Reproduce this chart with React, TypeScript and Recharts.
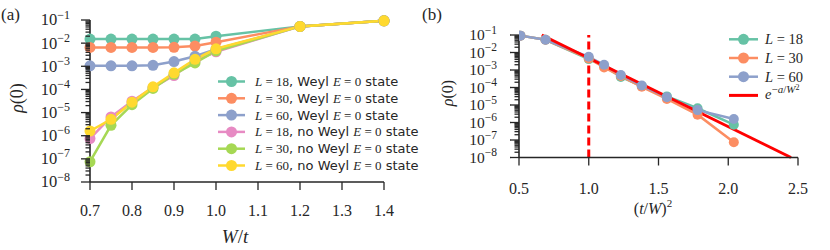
import React from 'react';
import { LineChart, Line, XAxis, YAxis, ReferenceLine, Customized } from 'recharts';

// W/t values (panel a) and the matching (t/W)^2 values (panel b)
const wOverT = [0.7, 0.75, 0.8, 0.85, 0.9, 0.95, 1.0, 1.2, 1.4];
const tOverW2 = [2.04, 1.78, 1.56, 1.38, 1.23, 1.11, 1.0, 0.69, 0.51];

// rho(0)
const weylL18 = [1.5e-2, 1.5e-2, 1.5e-2, 1.5e-2, 1.5e-2, 1.5e-2, 2.0e-2, 5.3e-2, 9.2e-2];
const weylL30 = [6.5e-3, 6.5e-3, 6.5e-3, 6.5e-3, 6.6e-3, 7.5e-3, 1.1e-2, 5.3e-2, 9.2e-2];
const weylL60 = [1.05e-3, 1.05e-3, 1.05e-3, 1.1e-3, 1.6e-3, 2.7e-3, 5.5e-3, 5.3e-2, 9.2e-2];
const noWeylL18 = [7.5e-7, 6.5e-6, 3.1e-5, 1.2e-4, 4.0e-4, 1.7e-3, 4.2e-3, 5.3e-2, 9.2e-2];
const noWeylL30 = [7.5e-8, 2.8e-6, 2.2e-5, 1.1e-4, 4.5e-4, 1.4e-3, 4.6e-3, 5.3e-2, 9.2e-2];
const noWeylL60 = [1.6e-6, 5.1e-6, 2.8e-5, 1.3e-4, 5.2e-4, 2.0e-3, 5.7e-3, 5.3e-2, 9.2e-2];

// red fit line e^{-a/W^2}, end points
const fitX = [0.663, 2.45];
const fitRho = [1e-1, 1e-8];

const xTicksA = [0.7, 0.8, 0.9, 1.0, 1.1, 1.2, 1.3, 1.4];
const xTicksB = [0.5, 1.0, 1.5, 2.0, 2.5];
const decades = [-8, -7, -6, -5, -4, -3, -2];
const mantissas = [1, 2, 3, 4, 5, 6, 7, 8, 9];
const yTicks = [...decades.flatMap((e) => mantissas.map((m) => m * Math.pow(10, e))), 1e-1];

const legendL = ['18', '30', '60', '18', '30', '60'];
const legendWeyl = [true, true, true, false, false, false];
const legendLB = ['18', '30', '60'];

const colors = ['#66c2a5', '#fc8d62', '#8da0cb', '#e78ac3', '#a6d854', '#ffd92f'];
const RED = '#ff0000';
const INK = '#262626';
const SERIF = '"Liberation Serif", "DejaVu Serif", serif';
const SANS = '"DejaVu Sans", sans-serif';

const seriesA = [weylL18, weylL30, weylL60, noWeylL18, noWeylL30, noWeylL60];
const dataA = wOverT.map((x, i) => {
  const row: Record<string, number> = { x };
  seriesA.forEach((s, k) => (row['s' + k] = s[i]));
  return row;
});
const seriesB = [noWeylL18, noWeylL30, noWeylL60];
const dataB = seriesB.map((s) => tOverW2.map((x, i) => ({ x, y: s[i] })));
const fitData = fitX.map((x, i) => ({ x, y: fitRho[i] }));

const makeYTick = (fontSize: number, supSize: number, gap: number) => (props: any) => {
  const { x, y, payload } = props;
  const v = payload.value;
  const e = Math.round(Math.log10(v));
  const major = Math.abs(v / Math.pow(10, e) - 1) < 1e-6;
  return (
    <g>
      <line x1={x - (major ? 9 : 4.5)} x2={x} y1={y} y2={y} stroke={INK} strokeWidth={1.3} />
      {major && (
        <text x={x - gap} y={y + fontSize * 0.33} textAnchor="end" fontFamily={SERIF} fontSize={fontSize} fill={INK}>
          10
          <tspan dy={-fontSize * 0.42} fontSize={supSize}>
            {'\u2212' + -e}
          </tspan>
        </text>
      )}
    </g>
  );
};

const makeXTick = (fontSize: number, dy: number) => (props: any) => {
  const { x, y, payload } = props;
  return (
    <g>
      <line x1={x} x2={x} y1={y} y2={y + 8} stroke={INK} strokeWidth={1.3} />
      <text x={x} y={y + dy} textAnchor="middle" fontFamily={SERIF} fontSize={fontSize} fill={INK}>
        {payload.value.toFixed(1)}
      </text>
    </g>
  );
};

const PanelAText = () => (
  <g fill={INK}>
    <text x={1} y={20} fontFamily={SERIF} fontSize={17}>(a)</text>
    <text x={0} y={0} transform="translate(23,98) rotate(-90)" textAnchor="middle" fontFamily={SERIF} fontSize={18}>
      <tspan fontStyle="italic">ρ</tspan>(0)
    </text>
    <text x={235} y={243} textAnchor="middle" fontFamily={SERIF} fontSize={19}>
      <tspan fontStyle="italic">W</tspan>/<tspan fontStyle="italic">t</tspan>
    </text>
    {legendL.map((L, i) => {
      const cy = 81.5 + i * 16.8;
      return (
        <g key={i}>
          <line x1={218} x2={245} y1={cy} y2={cy} stroke={colors[i]} strokeWidth={2.5} />
          <circle cx={231.5} cy={cy} r={5.5} fill={colors[i]} />
          <text x={255} y={cy + 4.5} fontSize={13}>
            <tspan fontFamily={SERIF} fontStyle="italic">L</tspan>
            <tspan fontFamily={SERIF}>{' = ' + L}</tspan>
            <tspan fontFamily={SANS}>{legendWeyl[i] ? ', Weyl ' : ', no Weyl '}</tspan>
            <tspan fontFamily={SERIF} fontStyle="italic">E</tspan>
            <tspan fontFamily={SERIF}>{' = 0'}</tspan>
            <tspan fontFamily={SANS}>{' state'}</tspan>
          </text>
        </g>
      );
    })}
  </g>
);

const PanelBText = () => (
  <g fill={INK}>
    <text x={2} y={20} fontFamily={SERIF} fontSize={17}>(b)</text>
    <text x={0} y={0} transform="translate(33,93) rotate(-90)" textAnchor="middle" fontFamily={SERIF} fontSize={16}>
      <tspan fontStyle="italic">ρ</tspan>(0)
    </text>
    <text x={233} y={214} textAnchor="middle" fontFamily={SERIF} fontSize={16}>
      (<tspan fontStyle="italic">t</tspan>/<tspan fontStyle="italic">W</tspan>)
      <tspan dy={-7} fontSize={11}>2</tspan>
    </text>
    {legendLB.map((L, i) => {
      const cy = 39.3 + i * 18.7;
      return (
        <g key={i}>
          <line x1={309} x2={338} y1={cy} y2={cy} stroke={colors[i]} strokeWidth={2.5} />
          <circle cx={323.5} cy={cy} r={5.5} fill={colors[i]} />
          <text x={345} y={cy + 5} fontSize={14.5} fontFamily={SERIF}>
            <tspan fontStyle="italic">L</tspan>
            {' = ' + L}
          </text>
        </g>
      );
    })}
    <line x1={309} x2={338} y1={39.3 + 3 * 18.7} y2={39.3 + 3 * 18.7} stroke={RED} strokeWidth={3} />
    <text x={345} y={39.3 + 3 * 18.7 + 4} fontSize={14.5} fontFamily={SERIF}>
      <tspan fontStyle="italic">e</tspan>
      <tspan dy={-6} fontSize={11}>
        {'\u2212'}
        <tspan fontStyle="italic">a</tspan>/<tspan fontStyle="italic">W</tspan>
      </tspan>
      <tspan dy={-3} fontSize={8}>2</tspan>
    </text>
  </g>
);

export default function App() {
  return (
    <div style={{ position: 'absolute', left: 0, top: 0, width: 830, height: 250, background: '#fff' }}>
      <div style={{ position: 'absolute', left: 0, top: 0 }}>
        <LineChart width={420} height={250} data={dataA} margin={{ top: 20, right: 36, bottom: 0, left: 0 }}>
          <XAxis
            dataKey="x"
            type="number"
            domain={[0.7, 1.4]}
            ticks={xTicksA}
            interval={0}
            height={68}
            tickSize={0}
            tickMargin={0}
            tickLine={false}
            tick={makeXTick(16, 34)}
            axisLine={{ stroke: INK, strokeWidth: 1.6 }}
          />
          <YAxis
            type="number"
            scale="log"
            domain={[1e-8, 1e-1]}
            ticks={yTicks}
            interval={0}
            width={90}
            tickSize={0}
            tickMargin={0}
            tickLine={false}
            tick={makeYTick(16.5, 12, 20)}
            axisLine={{ stroke: INK, strokeWidth: 1.6 }}
          />
          {seriesA.map((_, k) => (
            <Line
              key={k}
              dataKey={'s' + k}
              stroke={colors[k]}
              strokeWidth={2.5}
              dot={{ r: 5.5, fill: colors[k], stroke: colors[k], strokeWidth: 0 }}
              isAnimationActive={false}
            />
          ))}
          <Customized component={<PanelAText />} />
        </LineChart>
      </div>
      <div style={{ position: 'absolute', left: 420, top: 0 }}>
        <LineChart width={410} height={250} margin={{ top: 35, right: 32, bottom: 0, left: 0 }}>
          <XAxis
            dataKey="x"
            type="number"
            domain={[0.5, 2.5]}
            ticks={xTicksB}
            interval={0}
            height={92.5}
            tickSize={0}
            tickMargin={0}
            tickLine={false}
            tick={makeXTick(16, 36)}
            axisLine={{ stroke: INK, strokeWidth: 1.6 }}
            allowDataOverflow
          />
          <YAxis
            type="number"
            scale="log"
            domain={[1e-8, 1e-1]}
            ticks={yTicks}
            interval={0}
            width={99}
            tickSize={0}
            tickMargin={0}
            tickLine={false}
            tick={makeYTick(15.5, 11.5, 22)}
            axisLine={{ stroke: INK, strokeWidth: 1.6 }}
          />
          <ReferenceLine x={1} stroke={RED} strokeWidth={3} strokeDasharray="8 4" />
          {dataB.map((d, k) => (
            <Line
              key={k}
              data={d}
              dataKey="y"
              stroke={colors[k]}
              strokeWidth={2.5}
              dot={{ r: 5, fill: colors[k], stroke: colors[k], strokeWidth: 0 }}
              isAnimationActive={false}
            />
          ))}
          <Line data={fitData} dataKey="y" stroke={RED} strokeWidth={3} dot={false} isAnimationActive={false} />
          <Customized component={<PanelBText />} />
        </LineChart>
      </div>
    </div>
  );
}
